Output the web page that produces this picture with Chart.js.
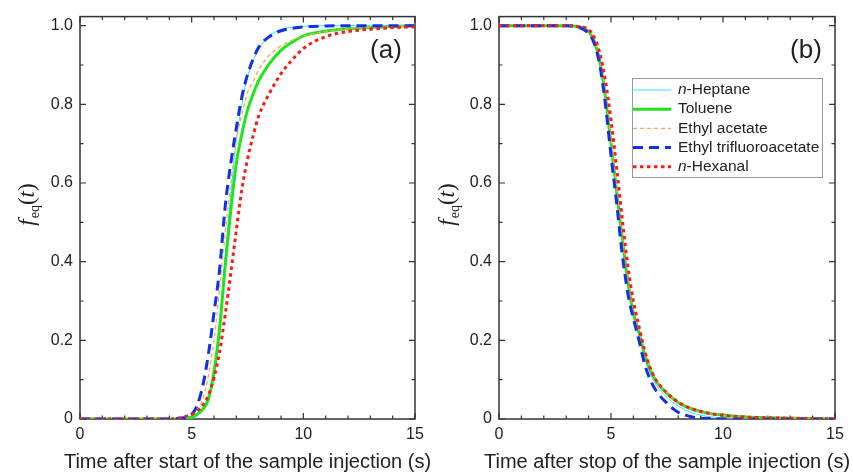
<!DOCTYPE html>
<html lang="en">
<head>
<meta charset="UTF-8">
<title>f_eq(t) after start / stop of sample injection</title>
<script src="https://cdn.jsdelivr.net/npm/chart.js"></script>
<style>
  html, body { margin: 0; padding: 0; background: #fff; }
  #wrap { position: relative; width: 853px; height: 474px; overflow: hidden; }
  #boxA { position: absolute; left: 0; top: 0; width: 440px; height: 474px; }
  #boxB { position: absolute; left: 420px; top: 0; width: 433px; height: 474px; }
</style>
</head>
<body>
<div id="wrap">
  <div id="boxA"><canvas id="chartA"></canvas></div>
  <div id="boxB"><canvas id="chartB"></canvas></div>
</div>
<script>
// series names, legend order
const names = ['n-Heptane', 'Toluene', 'Ethyl acetate', 'Ethyl trifluoroacetate', 'n-Hexanal'];

// (a) after start of the sample injection
const timeA = [0, 1, 2, 3, 4, 4.5, 5, 5.25, 5.5, 5.75, 6, 6.25, 6.5, 6.75, 7, 7.25, 7.5, 7.75, 8, 8.5, 9, 9.5, 10, 11, 12, 13, 14, 15];
const heptaneA = [0, 0, 0, 0, 0, 0, 0.002, 0.008, 0.025, 0.06, 0.11, 0.25, 0.41, 0.57, 0.71, 0.80, 0.87, 0.91, 0.94, 0.975, 0.99, 0.996, 0.998, 1, 1, 1, 1, 1];
const tolueneA = [0, 0, 0, 0, 0, 0, 0.005, 0.012, 0.025, 0.05, 0.12, 0.23, 0.39, 0.53, 0.65, 0.725, 0.785, 0.826, 0.86, 0.905, 0.937, 0.958, 0.974, 0.986, 0.992, 0.995, 0.998, 1];
const ethylAcetateA = [0, 0, 0, 0, 0, 0.002, 0.01, 0.022, 0.05, 0.11, 0.20, 0.33, 0.47, 0.60, 0.71, 0.775, 0.83, 0.858, 0.888, 0.926, 0.948, 0.963, 0.973, 0.985, 0.992, 0.996, 0.998, 1];
const etfaA = [0, 0, 0, 0, 0, 0.002, 0.012, 0.035, 0.085, 0.165, 0.27, 0.38, 0.54, 0.65, 0.74, 0.82, 0.875, 0.915, 0.945, 0.973, 0.987, 0.993, 0.997, 0.999, 1, 1, 1, 1];
const hexanalA = [0, 0, 0, 0, 0, 0.003, 0.012, 0.02, 0.035, 0.06, 0.105, 0.17, 0.265, 0.37, 0.48, 0.585, 0.66, 0.72, 0.77, 0.83, 0.878, 0.913, 0.942, 0.972, 0.985, 0.991, 0.995, 0.997];

// (b) after stop of the sample injection
const timeB = [0, 1, 2, 3, 3.5, 4, 4.25, 4.5, 4.75, 5, 5.25, 5.5, 5.75, 6, 6.25, 6.5, 6.75, 7, 7.5, 8, 8.5, 9, 9.5, 10, 11, 12, 13, 14, 15];
const heptaneB = [1, 1, 1, 1, 0.998, 0.985, 0.96, 0.91, 0.82, 0.70, 0.58, 0.46, 0.34, 0.26, 0.21, 0.155, 0.115, 0.088, 0.055, 0.033, 0.018, 0.01, 0.005, 0.003, 0.001, 0, 0, 0, 0];
const tolueneB = [1, 1, 1, 1, 0.998, 0.985, 0.96, 0.91, 0.82, 0.70, 0.58, 0.46, 0.35, 0.27, 0.22, 0.165, 0.125, 0.098, 0.065, 0.042, 0.028, 0.019, 0.013, 0.01, 0.005, 0.003, 0.002, 0.001, 0];
const ethylAcetateB = [1, 1, 1, 1, 0.998, 0.987, 0.963, 0.915, 0.83, 0.71, 0.59, 0.47, 0.36, 0.28, 0.225, 0.17, 0.128, 0.1, 0.066, 0.043, 0.028, 0.018, 0.012, 0.009, 0.005, 0.003, 0.002, 0.001, 0];
const etfaB = [1, 1, 1, 1, 0.997, 0.98, 0.955, 0.90, 0.80, 0.67, 0.55, 0.42, 0.32, 0.255, 0.20, 0.14, 0.10, 0.073, 0.04, 0.017, 0.007, 0.002, 0.001, 0, 0, 0, 0, 0, 0];
const hexanalB = [1, 1, 1, 1, 0.998, 0.99, 0.97, 0.93, 0.86, 0.76, 0.64, 0.51, 0.39, 0.30, 0.235, 0.175, 0.13, 0.10, 0.066, 0.043, 0.028, 0.019, 0.013, 0.009, 0.005, 0.003, 0.002, 0.001, 0];

// axes
const xTickLabels = [0, 5, 10, 15];
const yTickLabels = [0, 0.2, 0.4, 0.6, 0.8, 1.0];
const xTitles = ['Time after start of the sample injection (s)', 'Time after stop of the sample injection (s)'];
const panelLabels = ['(a)', '(b)'];

const styles = [
  { color: '#2ee6ff', width: 1, dash: [] },
  { color: '#1ee61e', width: 3, dash: [] },
  { color: '#ffa64d', width: 1.3, dash: [4, 3] },
  { color: '#1030f0', width: 3, dash: [10, 6] },
  { color: '#ff1a1a', width: 3, dash: [3.5, 3.5] }
];

const sans = '"Liberation Sans", Arial, sans-serif';
const serif = '"Liberation Serif", "Times New Roman", serif';
const ink = '#222';

function toPoints(t, v) {
  return t.map((x, i) => ({ x: x, y: v[i] }));
}

function makeDatasets(t, series) {
  return series.map((v, i) => ({
    label: names[i],
    data: toPoints(t, v),
    borderColor: styles[i].color,
    borderWidth: styles[i].width,
    borderDash: styles[i].dash,
    borderCapStyle: 'butt',
    pointRadius: 0,
    cubicInterpolationMode: 'monotone',
    fill: false,
    order: 5 - i
  }));
}

function drawYTitle(ctx, cx, cy) {
  const parts = [
    { s: 'f', font: 'italic 23px ' + serif, dy: 0 },
    { s: 'eq', font: '14px ' + serif, dy: 5 },
    { s: '(', font: '23px ' + serif, dy: 0 },
    { s: 't', font: 'italic 23px ' + serif, dy: 0 },
    { s: ')', font: '23px ' + serif, dy: 0 }
  ];
  ctx.save();
  ctx.translate(cx, cy);
  ctx.rotate(-Math.PI / 2);
  ctx.fillStyle = ink;
  ctx.textBaseline = 'alphabetic';
  ctx.textAlign = 'left';
  let total = 0;
  parts.forEach(p => { ctx.font = p.font; p.w = ctx.measureText(p.s).width; total += p.w; });
  let x = -total / 2;
  parts.forEach(p => {
    ctx.font = p.font;
    ctx.fillText(p.s, x, 6 + p.dy);
    x += p.w + (p.s === 'f' ? 1 : 0);
  });
  ctx.restore();
}

function drawLegend(ctx) {
  const bx = 212, by = 78, bw = 190, bh = 99;
  ctx.save();
  ctx.strokeStyle = '#999';
  ctx.lineWidth = 1;
  ctx.strokeRect(bx + 0.5, by + 0.5, bw, bh);
  names.forEach((name, i) => {
    const y = 90 + i * 19.2;
    ctx.beginPath();
    ctx.strokeStyle = styles[i].color;
    ctx.lineWidth = styles[i].width;
    ctx.setLineDash(styles[i].dash);
    ctx.lineCap = 'butt';
    ctx.moveTo(bx + 1, y);
    ctx.lineTo(bx + 39, y);
    ctx.stroke();
    ctx.setLineDash([]);
    ctx.fillStyle = ink;
    ctx.textBaseline = 'middle';
    ctx.textAlign = 'left';
    let x = bx + 46;
    let rest = name;
    if (name.startsWith('n-')) {
      ctx.font = 'italic 15.5px ' + sans;
      ctx.fillText('n', x, y);
      x += ctx.measureText('n').width;
      rest = name.slice(1);
    }
    ctx.font = '15.5px ' + sans;
    ctx.fillText(rest, x, y);
  });
  ctx.restore();
}

function decorPlugin(idx) {
  return {
    id: 'decor' + idx,
    beforeDatasetsDraw(chart) {
      const ctx = chart.ctx;
      const { left, right, top, bottom } = chart.chartArea;
      const xs = chart.scales.x, ys = chart.scales.y;
      ctx.save();
      ctx.strokeStyle = '#333';
      ctx.lineWidth = 1.5;
      ctx.strokeRect(left, top, right - left, bottom - top);
      ctx.lineWidth = 1.2;
      ctx.beginPath();
      for (let t = 0; t <= 15; t++) {
        const px = xs.getPixelForValue(t);
        const len = t % 5 === 0 ? 6 : 3.5;
        ctx.moveTo(px, bottom); ctx.lineTo(px, bottom - len);
        ctx.moveTo(px, top); ctx.lineTo(px, top + len);
      }
      for (let k = 0; k <= 10; k++) {
        const py = ys.getPixelForValue(k / 10);
        const len = k % 2 === 0 ? 6 : 3.5;
        ctx.moveTo(left, py); ctx.lineTo(left + len, py);
        ctx.moveTo(right, py); ctx.lineTo(right - len, py);
      }
      ctx.stroke();
      ctx.restore();
    },
    afterDraw(chart) {
      const ctx = chart.ctx;
      const { left, right } = chart.chartArea;
      ctx.save();
      ctx.fillStyle = ink;
      ctx.font = '20px ' + sans;
      ctx.textAlign = 'center';
      ctx.textBaseline = 'middle';
      ctx.fillText(xTitles[idx], (left + right) / 2, 462);
      ctx.font = '26px ' + sans;
      ctx.fillText(panelLabels[idx], right - 29, 51);
      ctx.restore();
      drawYTitle(ctx, 28, 205);
      if (idx === 1) drawLegend(ctx);
    }
  };
}

function makeChart(canvasId, idx, t, series, padRight, yWidth) {
  return new Chart(document.getElementById(canvasId), {
    type: 'line',
    data: { datasets: makeDatasets(t, series) },
    options: {
      responsive: true,
      maintainAspectRatio: false,
      animation: false,
      layout: { padding: { left: 0, right: padRight, top: 15, bottom: 0 } },
      plugins: { legend: { display: false }, tooltip: { enabled: false } },
      scales: {
        x: {
          type: 'linear',
          min: 0, max: 15,
          grid: { display: false, drawTicks: false },
          border: { display: false },
          afterFit: s => { s.height = 55; },
          afterBuildTicks: s => { s.ticks = xTickLabels.map(v => ({ value: v })); },
          ticks: { padding: 6, color: ink, font: { size: 16, family: sans }, maxRotation: 0 }
        },
        y: {
          min: 0, max: 1.023,
          grid: { display: false, drawTicks: false },
          border: { display: false },
          afterFit: s => { s.width = yWidth; },
          afterBuildTicks: s => { s.ticks = yTickLabels.map(v => ({ value: v })); },
          ticks: {
            padding: 7, color: ink, font: { size: 16, family: sans },
            callback: v => v === 0 ? '0' : v.toFixed(1)
          }
        }
      }
    },
    plugins: [decorPlugin(idx)]
  });
}

makeChart('chartA', 0, timeA, [heptaneA, tolueneA, ethylAcetateA, etfaA, hexanalA], 25, 80);
makeChart('chartB', 1, timeB, [heptaneB, tolueneB, ethylAcetateB, etfaB, hexanalB], 18, 79);
</script>
</body>
</html>
